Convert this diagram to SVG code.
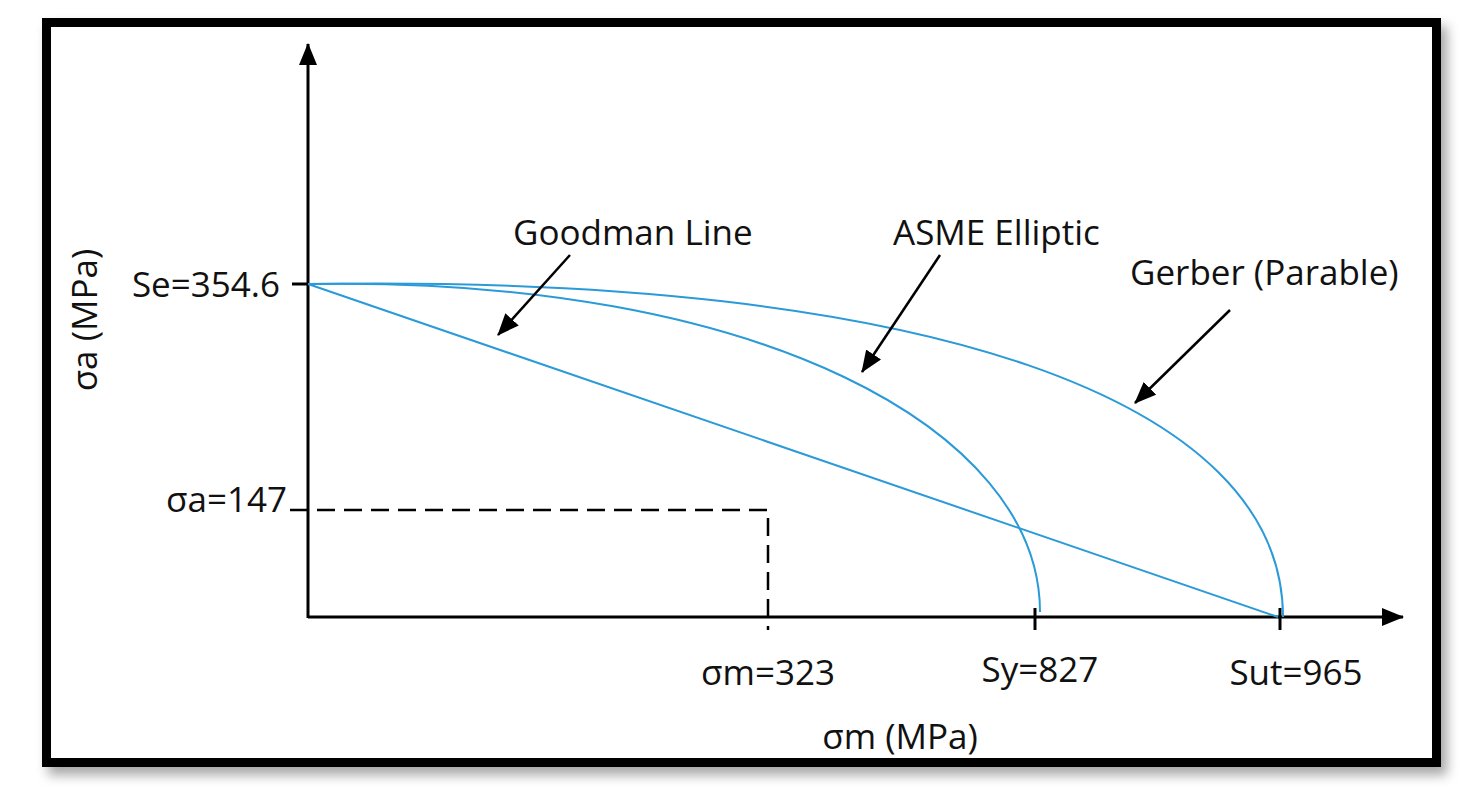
<svg xmlns="http://www.w3.org/2000/svg" width="1469" height="797" viewBox="0 0 1469 797">
<defs>
<marker id="big" markerWidth="22" markerHeight="18" refX="21" refY="9" orient="auto" markerUnits="userSpaceOnUse"><path d="M0,0 L22,9 L0,18 z" fill="#000"/></marker>
<filter id="sh" x="-5%" y="-5%" width="110%" height="115%"><feDropShadow dx="6" dy="8" stdDeviation="6" flood-color="#000" flood-opacity="0.35"/></filter>
</defs>
<style>
text{font-family:"Open Sans","Liberation Sans",sans-serif;font-size:35px;fill:#111}
.c{fill:none;stroke:#2a9ad8;stroke-width:2}
.ax{stroke:#000;stroke-width:3;fill:none}
.ar{stroke:#000;stroke-width:2.5;fill:none}
.d{stroke:#000;stroke-width:2.5;stroke-dasharray:18,9;fill:none}
</style>
<rect width="1469" height="797" fill="#fff"/>
<rect x="46.500" y="22.500" width="1390" height="740" fill="#fff" stroke="#000" stroke-width="9" filter="url(#sh)"/>
<g id="axes">
<line class="ax" x1="308" y1="618" x2="308" y2="44" marker-end="url(#big)"/>
<line class="ax" x1="308" y1="617" x2="1403" y2="617" marker-end="url(#big)"/>
<line class="ax" x1="292" y1="284" x2="308" y2="284"/>
<line class="ax" x1="1035" y1="608" x2="1035" y2="630"/>
<line class="ax" x1="1280" y1="608" x2="1280" y2="630"/>
</g>
<g id="curves">
<path class="c" d="M308,284 L1278,617"/>
<path class="c" d="M308,284 C760,276 1040,430 1040,612"/>
<path class="c" d="M308,284 C930,274 1283,400 1283,617"/>
</g>
<g id="dashed">
<path class="d" d="M290,510 H768 V630"/>
</g>
<g id="connectors">
<line class="ar" x1="570" y1="255" x2="498" y2="335" marker-end="url(#big)"/>
<line class="ar" x1="940" y1="255" x2="862" y2="372" marker-end="url(#big)"/>
<line class="ar" x1="1230" y1="310" x2="1135" y2="403" marker-end="url(#big)"/>
</g>
<g id="labels">
<text x="513" y="245">Goodman Line</text>
<text x="893" y="245">ASME Elliptic</text>
<text x="1130" y="285">Gerber (Parable)</text>
<text x="280" y="297" text-anchor="end">Se=354.6</text>
<text x="287" y="512" text-anchor="end">σa=147</text>
<text x="768" y="685" text-anchor="middle">σm=323</text>
<text x="1040" y="682" text-anchor="middle">Sy=827</text>
<text x="1296" y="685" text-anchor="middle">Sut=965</text>
<text x="900" y="749" text-anchor="middle">σm (MPa)</text>
<text transform="translate(97,320) rotate(-90)" text-anchor="middle">σa (MPa)</text>
</g>
</svg>
